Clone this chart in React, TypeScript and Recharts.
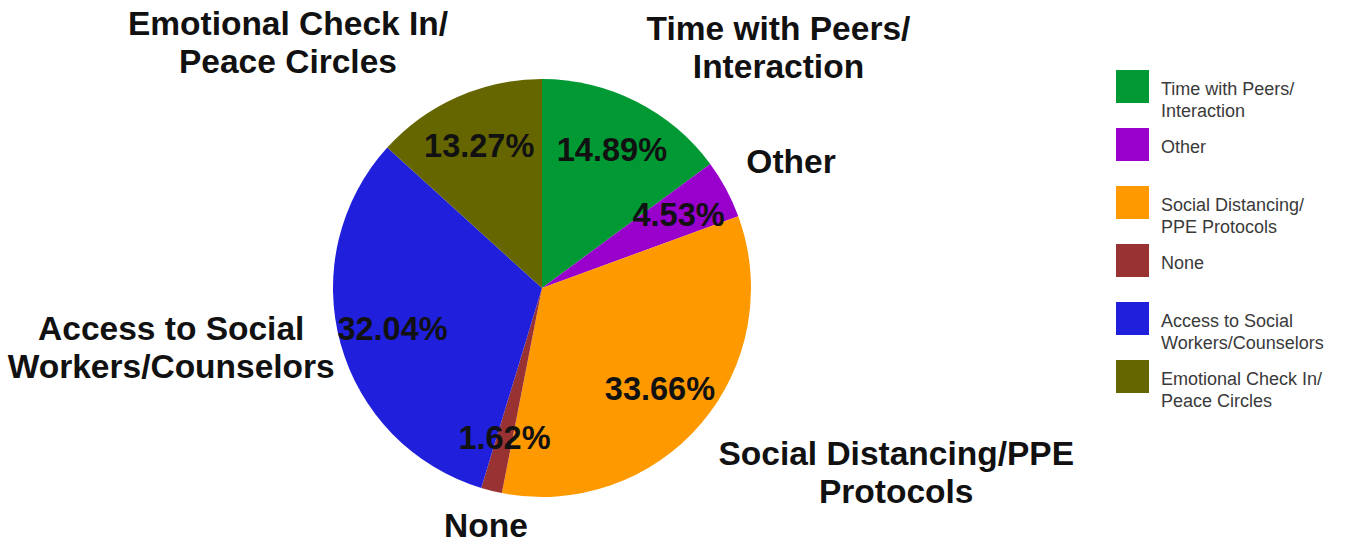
import React from "react";
import { PieChart, Pie, Cell, Legend } from "recharts";

const categories = [
  "Time with Peers/ Interaction",
  "Other",
  "Social Distancing/ PPE Protocols",
  "None",
  "Access to Social Workers/Counselors",
  "Emotional Check In/ Peace Circles",
];
const values = [14.89, 4.53, 33.66, 1.62, 32.04, 13.27];
const sliceLabels = [
  ["Time with Peers/", "Interaction"],
  ["Other"],
  ["Social Distancing/PPE", "Protocols"],
  ["None"],
  ["Access to Social", "Workers/Counselors"],
  ["Emotional Check In/", "Peace Circles"],
];
const legendLabels = [
  ["Time with Peers/", "Interaction"],
  ["Other"],
  ["Social Distancing/", "PPE Protocols"],
  ["None"],
  ["Access to Social", "Workers/Counselors"],
  ["Emotional Check In/", "Peace Circles"],
];
const colors = ["#009933", "#9900cc", "#ff9900", "#993333", "#1f1fdc", "#666600"];

const data = categories.map((name, i) => ({ name, value: values[i], idx: i }));

const FONT = "'Liberation Sans', Arial, Helvetica, sans-serif";
const RAD = Math.PI / 180;
const LABEL_SIZE = 33.5;

let ctx: CanvasRenderingContext2D | null = null;
const measure = (s: string) => {
  if (!ctx && typeof document !== "undefined") {
    ctx = document.createElement("canvas").getContext("2d");
  }
  if (!ctx) return s.length * LABEL_SIZE * 0.6;
  ctx.font = `bold ${LABEL_SIZE}px ${FONT}`;
  return ctx.measureText(s).width;
};

const renderLabel = (props: any) => {
  const { cx, cy, midAngle, outerRadius, index } = props;
  const cos = Math.cos(-midAngle * RAD);
  const sin = Math.sin(-midAngle * RAD);
  const ri = outerRadius * 0.742;
  const ix = cx + ri * cos;
  const iy = cy + ri * sin;
  const sideways = Math.abs(sin) <= 0.3;
  const rx = sideways ? outerRadius + 6 : outerRadius + 23;
  const ry = outerRadius + 17;
  const px = cx + rx * cos;
  const py = cy + ry * sin;
  const lines = sliceLabels[index];
  const lh = 38;
  const H = lines.length * lh;
  const W = Math.max(...lines.map(measure));
  let left: number;
  if (cos > 0.3) left = px;
  else if (cos < -0.3) left = px - W;
  else left = px - W / 2;
  const midX = left + W / 2;
  let top: number;
  if (sin < -0.3) top = py - H;
  else if (sin > 0.3) top = py;
  else top = py - H / 2;
  return (
    <g>
      <text
        x={ix}
        y={iy}
        textAnchor="middle"
        dominantBaseline="central"
        fontFamily={FONT}
        fontWeight="bold"
        fontSize={32.5}
        fill="#111"
      >
        {values[index].toFixed(2) + "%"}
      </text>
      <text textAnchor="middle" fontFamily={FONT} fontWeight="bold" fontSize={LABEL_SIZE} fill="#111">
        {lines.map((l, k) => (
          <tspan key={k} x={midX} y={top + k * lh + lh / 2 + 11}>
            {l}
          </tspan>
        ))}
      </text>
    </g>
  );
};

const renderLegend = (props: any) => {
  const payload = props.payload || [];
  const colorOf = (name: string, i: number) => {
    const e = payload.find((p: any) => p.value === name || (p.payload && p.payload.name === name));
    return (e && e.color) || colors[i];
  };
  return (
    <div style={{ fontFamily: FONT }}>
      {categories.map((name, idx) => (
        <div key={idx} style={{ position: "relative", height: 58 }}>
          <div
            style={{
              position: "absolute",
              left: 0,
              top: 0,
              width: 33,
              height: 33,
              background: colorOf(name, idx),
            }}
          />
          <div
            style={{
              position: "absolute",
              left: 45,
              top: 8,
              fontSize: 18,
              lineHeight: "22px",
              color: "#3a3a3a",
              whiteSpace: "nowrap",
            }}
          >
            {legendLabels[idx].map((l, k) => (
              <div key={k}>{l}</div>
            ))}
          </div>
        </div>
      ))}
    </div>
  );
};

export default function App() {
  return (
    <div style={{ position: "absolute", left: 0, top: 0, width: 1347, height: 544, background: "#fff" }}>
      <PieChart width={1347} height={544} margin={{ top: 0, right: 0, bottom: 0, left: 0 }}>
        <Pie
          data={data}
          dataKey="value"
          nameKey="name"
          cx={542}
          cy={288}
          outerRadius={209}
          startAngle={90}
          endAngle={-270}
          stroke="none"
          label={renderLabel}
          labelLine={false}
          isAnimationActive={false}
        >
          {data.map((d, i) => (
            <Cell key={i} fill={colors[i]} />
          ))}
        </Pie>
        <Legend
          content={renderLegend}
          layout="vertical"
          verticalAlign="top"
          align="right"
          wrapperStyle={{ left: 1116, top: 70, width: 231, right: "auto" }}
        />
      </PieChart>
    </div>
  );
}
